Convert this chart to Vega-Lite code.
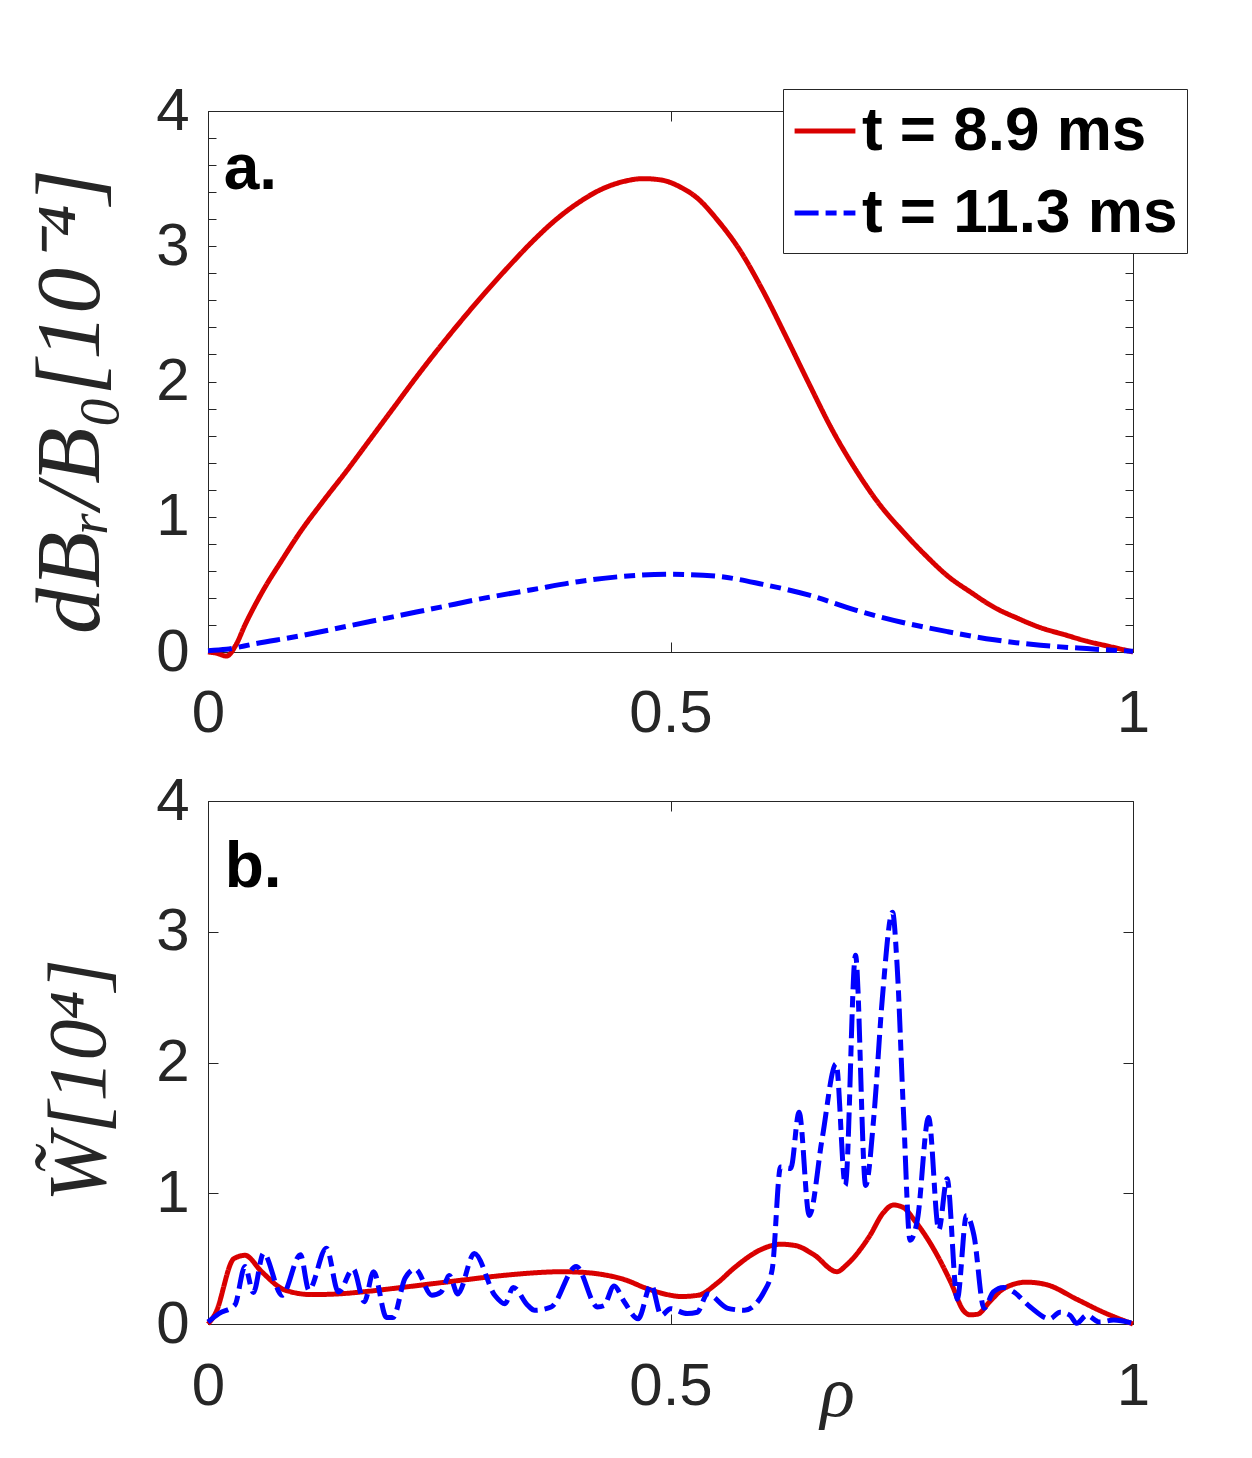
{
  "$schema": "https://vega.github.io/schema/vega-lite/v6.json",
  "background": "white",
  "padding": {"left": 23, "top": 80, "right": 0, "bottom": 0},
  "config": {
    "view": {"stroke": "#262626", "strokeWidth": 1},
    "axis": {
      "domainColor": "#262626",
      "tickColor": "#262626",
      "labelColor": "#262626",
      "titleColor": "#262626",
      "labelFont": "Liberation Sans",
      "labelFontSize": 60,
      "labelFlush": false,
      "labelOverlap": false,
      "labelBound": false,
      "grid": false,
      "tickWidth": 1
    },
    "line": {"strokeWidth": 5, "interpolate": "monotone"}
  },
  "datasets": {
    "a": [
      {"rho": 0, "v": 0, "t": "t = 8.9 ms"},
      {"rho": 0.01, "v": -0.01, "t": "t = 8.9 ms"},
      {"rho": 0.02, "v": -0.03, "t": "t = 8.9 ms"},
      {"rho": 0.03, "v": 0.05, "t": "t = 8.9 ms"},
      {"rho": 0.04, "v": 0.2, "t": "t = 8.9 ms"},
      {"rho": 0.06, "v": 0.46, "t": "t = 8.9 ms"},
      {"rho": 0.08, "v": 0.68, "t": "t = 8.9 ms"},
      {"rho": 0.1, "v": 0.89, "t": "t = 8.9 ms"},
      {"rho": 0.125, "v": 1.12, "t": "t = 8.9 ms"},
      {"rho": 0.15, "v": 1.34, "t": "t = 8.9 ms"},
      {"rho": 0.175, "v": 1.57, "t": "t = 8.9 ms"},
      {"rho": 0.2, "v": 1.8, "t": "t = 8.9 ms"},
      {"rho": 0.225, "v": 2.03, "t": "t = 8.9 ms"},
      {"rho": 0.25, "v": 2.25, "t": "t = 8.9 ms"},
      {"rho": 0.275, "v": 2.46, "t": "t = 8.9 ms"},
      {"rho": 0.3, "v": 2.66, "t": "t = 8.9 ms"},
      {"rho": 0.325, "v": 2.85, "t": "t = 8.9 ms"},
      {"rho": 0.35, "v": 3.03, "t": "t = 8.9 ms"},
      {"rho": 0.375, "v": 3.19, "t": "t = 8.9 ms"},
      {"rho": 0.4, "v": 3.32, "t": "t = 8.9 ms"},
      {"rho": 0.425, "v": 3.42, "t": "t = 8.9 ms"},
      {"rho": 0.45, "v": 3.48, "t": "t = 8.9 ms"},
      {"rho": 0.47, "v": 3.5, "t": "t = 8.9 ms"},
      {"rho": 0.49, "v": 3.49, "t": "t = 8.9 ms"},
      {"rho": 0.51, "v": 3.44, "t": "t = 8.9 ms"},
      {"rho": 0.53, "v": 3.35, "t": "t = 8.9 ms"},
      {"rho": 0.55, "v": 3.2, "t": "t = 8.9 ms"},
      {"rho": 0.575, "v": 2.97, "t": "t = 8.9 ms"},
      {"rho": 0.6, "v": 2.67, "t": "t = 8.9 ms"},
      {"rho": 0.625, "v": 2.33, "t": "t = 8.9 ms"},
      {"rho": 0.65, "v": 1.98, "t": "t = 8.9 ms"},
      {"rho": 0.675, "v": 1.64, "t": "t = 8.9 ms"},
      {"rho": 0.7, "v": 1.35, "t": "t = 8.9 ms"},
      {"rho": 0.725, "v": 1.1, "t": "t = 8.9 ms"},
      {"rho": 0.75, "v": 0.9, "t": "t = 8.9 ms"},
      {"rho": 0.775, "v": 0.72, "t": "t = 8.9 ms"},
      {"rho": 0.8, "v": 0.56, "t": "t = 8.9 ms"},
      {"rho": 0.825, "v": 0.44, "t": "t = 8.9 ms"},
      {"rho": 0.85, "v": 0.33, "t": "t = 8.9 ms"},
      {"rho": 0.875, "v": 0.25, "t": "t = 8.9 ms"},
      {"rho": 0.9, "v": 0.18, "t": "t = 8.9 ms"},
      {"rho": 0.925, "v": 0.13, "t": "t = 8.9 ms"},
      {"rho": 0.95, "v": 0.08, "t": "t = 8.9 ms"},
      {"rho": 0.975, "v": 0.04, "t": "t = 8.9 ms"},
      {"rho": 1, "v": 0, "t": "t = 8.9 ms"},
      {"rho": 0, "v": 0.01, "t": "t = 11.3 ms"},
      {"rho": 0.02, "v": 0.02, "t": "t = 11.3 ms"},
      {"rho": 0.05, "v": 0.06, "t": "t = 11.3 ms"},
      {"rho": 0.1, "v": 0.12, "t": "t = 11.3 ms"},
      {"rho": 0.15, "v": 0.19, "t": "t = 11.3 ms"},
      {"rho": 0.2, "v": 0.26, "t": "t = 11.3 ms"},
      {"rho": 0.25, "v": 0.33, "t": "t = 11.3 ms"},
      {"rho": 0.3, "v": 0.4, "t": "t = 11.3 ms"},
      {"rho": 0.35, "v": 0.46, "t": "t = 11.3 ms"},
      {"rho": 0.4, "v": 0.52, "t": "t = 11.3 ms"},
      {"rho": 0.45, "v": 0.56, "t": "t = 11.3 ms"},
      {"rho": 0.5, "v": 0.575, "t": "t = 11.3 ms"},
      {"rho": 0.55, "v": 0.56, "t": "t = 11.3 ms"},
      {"rho": 0.6, "v": 0.5, "t": "t = 11.3 ms"},
      {"rho": 0.65, "v": 0.42, "t": "t = 11.3 ms"},
      {"rho": 0.7, "v": 0.31, "t": "t = 11.3 ms"},
      {"rho": 0.75, "v": 0.22, "t": "t = 11.3 ms"},
      {"rho": 0.8, "v": 0.15, "t": "t = 11.3 ms"},
      {"rho": 0.85, "v": 0.09, "t": "t = 11.3 ms"},
      {"rho": 0.9, "v": 0.05, "t": "t = 11.3 ms"},
      {"rho": 0.95, "v": 0.025, "t": "t = 11.3 ms"},
      {"rho": 1, "v": 0.005, "t": "t = 11.3 ms"}
    ],
    "b": [
      {"rho": 0, "v": 0, "t": "t = 8.9 ms"},
      {"rho": 0.008, "v": 0.08, "t": "t = 8.9 ms"},
      {"rho": 0.028, "v": 0.5, "t": "t = 8.9 ms"},
      {"rho": 0.04, "v": 0.525, "t": "t = 8.9 ms"},
      {"rho": 0.058, "v": 0.4, "t": "t = 8.9 ms"},
      {"rho": 0.083, "v": 0.26, "t": "t = 8.9 ms"},
      {"rho": 0.112, "v": 0.225, "t": "t = 8.9 ms"},
      {"rho": 0.14, "v": 0.23, "t": "t = 8.9 ms"},
      {"rho": 0.173, "v": 0.25, "t": "t = 8.9 ms"},
      {"rho": 0.21, "v": 0.28, "t": "t = 8.9 ms"},
      {"rho": 0.245, "v": 0.31, "t": "t = 8.9 ms"},
      {"rho": 0.28, "v": 0.34, "t": "t = 8.9 ms"},
      {"rho": 0.317, "v": 0.37, "t": "t = 8.9 ms"},
      {"rho": 0.35, "v": 0.39, "t": "t = 8.9 ms"},
      {"rho": 0.382, "v": 0.4, "t": "t = 8.9 ms"},
      {"rho": 0.405, "v": 0.395, "t": "t = 8.9 ms"},
      {"rho": 0.425, "v": 0.38, "t": "t = 8.9 ms"},
      {"rho": 0.45, "v": 0.34, "t": "t = 8.9 ms"},
      {"rho": 0.475, "v": 0.27, "t": "t = 8.9 ms"},
      {"rho": 0.5, "v": 0.22, "t": "t = 8.9 ms"},
      {"rho": 0.511, "v": 0.21, "t": "t = 8.9 ms"},
      {"rho": 0.53, "v": 0.22, "t": "t = 8.9 ms"},
      {"rho": 0.55, "v": 0.31, "t": "t = 8.9 ms"},
      {"rho": 0.569, "v": 0.43, "t": "t = 8.9 ms"},
      {"rho": 0.598, "v": 0.57, "t": "t = 8.9 ms"},
      {"rho": 0.619, "v": 0.61, "t": "t = 8.9 ms"},
      {"rho": 0.635, "v": 0.6, "t": "t = 8.9 ms"},
      {"rho": 0.655, "v": 0.53, "t": "t = 8.9 ms"},
      {"rho": 0.68, "v": 0.4, "t": "t = 8.9 ms"},
      {"rho": 0.69, "v": 0.45, "t": "t = 8.9 ms"},
      {"rho": 0.715, "v": 0.67, "t": "t = 8.9 ms"},
      {"rho": 0.73, "v": 0.85, "t": "t = 8.9 ms"},
      {"rho": 0.741, "v": 0.91, "t": "t = 8.9 ms"},
      {"rho": 0.752, "v": 0.89, "t": "t = 8.9 ms"},
      {"rho": 0.763, "v": 0.8, "t": "t = 8.9 ms"},
      {"rho": 0.784, "v": 0.58, "t": "t = 8.9 ms"},
      {"rho": 0.803, "v": 0.32, "t": "t = 8.9 ms"},
      {"rho": 0.817, "v": 0.1, "t": "t = 8.9 ms"},
      {"rho": 0.824, "v": 0.07, "t": "t = 8.9 ms"},
      {"rho": 0.832, "v": 0.075, "t": "t = 8.9 ms"},
      {"rho": 0.845, "v": 0.17, "t": "t = 8.9 ms"},
      {"rho": 0.86, "v": 0.27, "t": "t = 8.9 ms"},
      {"rho": 0.885, "v": 0.32, "t": "t = 8.9 ms"},
      {"rho": 0.907, "v": 0.3, "t": "t = 8.9 ms"},
      {"rho": 0.939, "v": 0.19, "t": "t = 8.9 ms"},
      {"rho": 0.968, "v": 0.09, "t": "t = 8.9 ms"},
      {"rho": 1, "v": 0, "t": "t = 8.9 ms"},
      {"rho": 0, "v": 0.015, "t": "t = 11.3 ms"},
      {"rho": 0.012, "v": 0.08, "t": "t = 11.3 ms"},
      {"rho": 0.029, "v": 0.145, "t": "t = 11.3 ms"},
      {"rho": 0.04, "v": 0.44, "t": "t = 11.3 ms"},
      {"rho": 0.049, "v": 0.24, "t": "t = 11.3 ms"},
      {"rho": 0.06, "v": 0.54, "t": "t = 11.3 ms"},
      {"rho": 0.08, "v": 0.22, "t": "t = 11.3 ms"},
      {"rho": 0.1, "v": 0.53, "t": "t = 11.3 ms"},
      {"rho": 0.109, "v": 0.26, "t": "t = 11.3 ms"},
      {"rho": 0.128, "v": 0.58, "t": "t = 11.3 ms"},
      {"rho": 0.141, "v": 0.245, "t": "t = 11.3 ms"},
      {"rho": 0.157, "v": 0.42, "t": "t = 11.3 ms"},
      {"rho": 0.169, "v": 0.17, "t": "t = 11.3 ms"},
      {"rho": 0.179, "v": 0.4, "t": "t = 11.3 ms"},
      {"rho": 0.193, "v": 0.05, "t": "t = 11.3 ms"},
      {"rho": 0.2, "v": 0.05, "t": "t = 11.3 ms"},
      {"rho": 0.213, "v": 0.35, "t": "t = 11.3 ms"},
      {"rho": 0.224, "v": 0.42, "t": "t = 11.3 ms"},
      {"rho": 0.242, "v": 0.22, "t": "t = 11.3 ms"},
      {"rho": 0.252, "v": 0.245, "t": "t = 11.3 ms"},
      {"rho": 0.261, "v": 0.37, "t": "t = 11.3 ms"},
      {"rho": 0.27, "v": 0.23, "t": "t = 11.3 ms"},
      {"rho": 0.288, "v": 0.54, "t": "t = 11.3 ms"},
      {"rho": 0.31, "v": 0.22, "t": "t = 11.3 ms"},
      {"rho": 0.321, "v": 0.155, "t": "t = 11.3 ms"},
      {"rho": 0.33, "v": 0.28, "t": "t = 11.3 ms"},
      {"rho": 0.346, "v": 0.14, "t": "t = 11.3 ms"},
      {"rho": 0.353, "v": 0.105, "t": "t = 11.3 ms"},
      {"rho": 0.371, "v": 0.13, "t": "t = 11.3 ms"},
      {"rho": 0.398, "v": 0.44, "t": "t = 11.3 ms"},
      {"rho": 0.421, "v": 0.13, "t": "t = 11.3 ms"},
      {"rho": 0.428, "v": 0.14, "t": "t = 11.3 ms"},
      {"rho": 0.439, "v": 0.29, "t": "t = 11.3 ms"},
      {"rho": 0.45, "v": 0.17, "t": "t = 11.3 ms"},
      {"rho": 0.465, "v": 0.04, "t": "t = 11.3 ms"},
      {"rho": 0.479, "v": 0.3, "t": "t = 11.3 ms"},
      {"rho": 0.49, "v": 0.066, "t": "t = 11.3 ms"},
      {"rho": 0.5, "v": 0.117, "t": "t = 11.3 ms"},
      {"rho": 0.518, "v": 0.08, "t": "t = 11.3 ms"},
      {"rho": 0.529, "v": 0.09, "t": "t = 11.3 ms"},
      {"rho": 0.54, "v": 0.23, "t": "t = 11.3 ms"},
      {"rho": 0.562, "v": 0.12, "t": "t = 11.3 ms"},
      {"rho": 0.58, "v": 0.105, "t": "t = 11.3 ms"},
      {"rho": 0.601, "v": 0.245, "t": "t = 11.3 ms"},
      {"rho": 0.61, "v": 0.42, "t": "t = 11.3 ms"},
      {"rho": 0.619, "v": 1.2, "t": "t = 11.3 ms"},
      {"rho": 0.63, "v": 1.19, "t": "t = 11.3 ms"},
      {"rho": 0.639, "v": 1.62, "t": "t = 11.3 ms"},
      {"rho": 0.65, "v": 0.83, "t": "t = 11.3 ms"},
      {"rho": 0.664, "v": 1.42, "t": "t = 11.3 ms"},
      {"rho": 0.679, "v": 1.99, "t": "t = 11.3 ms"},
      {"rho": 0.689, "v": 1.06, "t": "t = 11.3 ms"},
      {"rho": 0.7, "v": 2.82, "t": "t = 11.3 ms"},
      {"rho": 0.711, "v": 1.06, "t": "t = 11.3 ms"},
      {"rho": 0.72, "v": 1.6, "t": "t = 11.3 ms"},
      {"rho": 0.729, "v": 2.49, "t": "t = 11.3 ms"},
      {"rho": 0.74, "v": 3.15, "t": "t = 11.3 ms"},
      {"rho": 0.745, "v": 2.74, "t": "t = 11.3 ms"},
      {"rho": 0.752, "v": 1.6, "t": "t = 11.3 ms"},
      {"rho": 0.759, "v": 0.64, "t": "t = 11.3 ms"},
      {"rho": 0.767, "v": 0.8, "t": "t = 11.3 ms"},
      {"rho": 0.779, "v": 1.58, "t": "t = 11.3 ms"},
      {"rho": 0.79, "v": 0.72, "t": "t = 11.3 ms"},
      {"rho": 0.799, "v": 1.11, "t": "t = 11.3 ms"},
      {"rho": 0.81, "v": 0.19, "t": "t = 11.3 ms"},
      {"rho": 0.82, "v": 0.83, "t": "t = 11.3 ms"},
      {"rho": 0.828, "v": 0.68, "t": "t = 11.3 ms"},
      {"rho": 0.839, "v": 0.12, "t": "t = 11.3 ms"},
      {"rho": 0.849, "v": 0.245, "t": "t = 11.3 ms"},
      {"rho": 0.86, "v": 0.28, "t": "t = 11.3 ms"},
      {"rho": 0.871, "v": 0.245, "t": "t = 11.3 ms"},
      {"rho": 0.889, "v": 0.13, "t": "t = 11.3 ms"},
      {"rho": 0.91, "v": 0.04, "t": "t = 11.3 ms"},
      {"rho": 0.921, "v": 0.09, "t": "t = 11.3 ms"},
      {"rho": 0.932, "v": 0.066, "t": "t = 11.3 ms"},
      {"rho": 0.939, "v": 0.005, "t": "t = 11.3 ms"},
      {"rho": 0.95, "v": 0.066, "t": "t = 11.3 ms"},
      {"rho": 0.964, "v": 0.015, "t": "t = 11.3 ms"},
      {"rho": 0.979, "v": 0.03, "t": "t = 11.3 ms"},
      {"rho": 1, "v": 0.005, "t": "t = 11.3 ms"}
    ],
    "labels": [
      {"panel": "a", "rho": 0.017, "v": 3.42, "txt": "a."},
      {"panel": "b", "rho": 0.018, "v": 3.34, "txt": "b."}
    ]
  },
  "vconcat": [
    {
      "width": 925,
      "height": 541,
      "layer": [
        {
          "data": {"name": "a"},
          "mark": "line",
          "encoding": {
            "x": {
              "field": "rho", "type": "quantitative",
              "scale": {"domain": [0, 1], "nice": false},
              "axis": {"orient": "bottom", "title": null, "values": [0, 0.5, 1], "format": "~g", "tickSize": -10, "labelPadding": 42}
            },
            "y": {
              "field": "v", "type": "quantitative",
              "scale": {"domain": [0, 4], "nice": false},
              "axis": {
                "orient": "left",
                "values": [0, 0.2, 0.4, 0.6, 0.8, 1, 1.2, 1.4, 1.6, 1.8, 2, 2.2, 2.4, 2.6, 2.8, 3, 3.2, 3.4, 3.6, 3.8, 4],
                "labelExpr": "abs(datum.value - round(datum.value)) < 0.001 ? format(datum.value, 'd') : ''",
                "tickSize": -8, "labelPadding": 27,
                "title": "dBᵣ/B₀[10⁻⁴]",
                "titleFont": "Liberation Serif", "titleFontStyle": "italic", "titleFontWeight": "normal",
                "titleFontSize": 92, "titleAngle": -90, "titleAlign": "center", "titleBaseline": "alphabetic",
                "titleX": -110, "titleY": 290
              }
            },
            "color": {
              "field": "t", "type": "nominal",
              "scale": {"domain": ["t = 8.9 ms", "t = 11.3 ms"], "range": ["#d90000", "#0000ff"]},
              "legend": {
                "title": null, "orient": "none", "legendX": 575, "legendY": -22,
                "symbolType": "stroke", "symbolSize": 3700, "symbolStrokeWidth": 5,
                "labelFont": "Liberation Sans", "labelFontWeight": "bold", "labelFontSize": 62, "labelColor": "black",
                "labelOffset": 4, "labelLimit": 500, "rowPadding": 18,
                "padding": 9, "strokeColor": "#262626", "fillColor": "white"
              }
            },
            "strokeDash": {
              "field": "t", "type": "nominal",
              "scale": {"domain": ["t = 8.9 ms", "t = 11.3 ms"], "range": [[1, 0], [24, 7, 11, 7]]},
              "legend": {
                "title": null, "orient": "none", "legendX": 575, "legendY": -22,
                "symbolType": "stroke", "symbolSize": 3700, "symbolStrokeWidth": 5,
                "labelFont": "Liberation Sans", "labelFontWeight": "bold", "labelFontSize": 62, "labelColor": "black",
                "labelOffset": 4, "labelLimit": 500, "rowPadding": 18,
                "padding": 9, "strokeColor": "#262626", "fillColor": "white"
              }
            }
          }
        },
        {
          "data": {"name": "labels"},
          "transform": [{"filter": "datum.panel === 'a'"}],
          "mark": {"type": "text", "font": "Liberation Sans", "fontWeight": "bold", "fontSize": 64, "align": "left", "baseline": "alphabetic", "color": "black"},
          "encoding": {
            "x": {
              "field": "rho", "type": "quantitative",
              "axis": {"orient": "top", "title": null, "labels": false, "domain": false, "values": [0, 0.5, 1], "tickSize": -10}
            },
            "y": {
              "field": "v", "type": "quantitative",
              "axis": {
                "orient": "right", "title": null, "labels": false, "domain": false, "tickSize": -8,
                "values": [0, 0.2, 0.4, 0.6, 0.8, 1, 1.2, 1.4, 1.6, 1.8, 2, 2.2, 2.4, 2.6, 2.8, 3, 3.2, 3.4, 3.6, 3.8, 4]
              }
            },
            "text": {"field": "txt"}
          }
        }
      ],
      "resolve": {"axis": {"x": "independent", "y": "independent"}}
    },
    {
      "width": 925,
      "height": 523,
      "layer": [
        {
          "data": {"name": "b"},
          "mark": "line",
          "encoding": {
            "x": {
              "field": "rho", "type": "quantitative",
              "scale": {"domain": [0, 1], "nice": false},
              "axis": {
                "orient": "bottom", "values": [0, 0.5, 1], "format": "~g", "tickSize": -10, "labelPadding": 43,
                "title": "ρ", "titleFont": "Liberation Serif", "titleFontStyle": "italic", "titleFontWeight": "normal",
                "titleFontSize": 72, "titleAlign": "center", "titleBaseline": "alphabetic", "titleX": 629, "titleY": 91
              }
            },
            "y": {
              "field": "v", "type": "quantitative",
              "scale": {"domain": [0, 4], "nice": false},
              "axis": {
                "orient": "left", "values": [0, 1, 2, 3, 4], "tickSize": -10, "labelPadding": 29,
                "title": "W̃[10⁴]",
                "titleFont": "Liberation Serif", "titleFontStyle": "italic", "titleFontWeight": "normal",
                "titleFontSize": 82, "titleAngle": -90, "titleAlign": "center", "titleBaseline": "alphabetic",
                "titleX": -104, "titleY": 279
              }
            },
            "color": {
              "field": "t", "type": "nominal",
              "scale": {"domain": ["t = 8.9 ms", "t = 11.3 ms"], "range": ["#d90000", "#0000ff"]},
              "legend": null
            },
            "strokeDash": {
              "field": "t", "type": "nominal",
              "scale": {"domain": ["t = 8.9 ms", "t = 11.3 ms"], "range": [[1, 0], [24, 7, 11, 7]]},
              "legend": null
            }
          }
        },
        {
          "data": {"name": "labels"},
          "transform": [{"filter": "datum.panel === 'b'"}],
          "mark": {"type": "text", "font": "Liberation Sans", "fontWeight": "bold", "fontSize": 64, "align": "left", "baseline": "alphabetic", "color": "black"},
          "encoding": {
            "x": {
              "field": "rho", "type": "quantitative",
              "axis": {"orient": "top", "title": null, "labels": false, "domain": false, "values": [0, 0.5, 1], "tickSize": -10}
            },
            "y": {
              "field": "v", "type": "quantitative",
              "axis": {"orient": "right", "title": null, "labels": false, "domain": false, "values": [0, 1, 2, 3, 4], "tickSize": -10}
            },
            "text": {"field": "txt"}
          }
        }
      ],
      "resolve": {"axis": {"x": "independent", "y": "independent"}}
    }
  ],
  "spacing": 26
}
